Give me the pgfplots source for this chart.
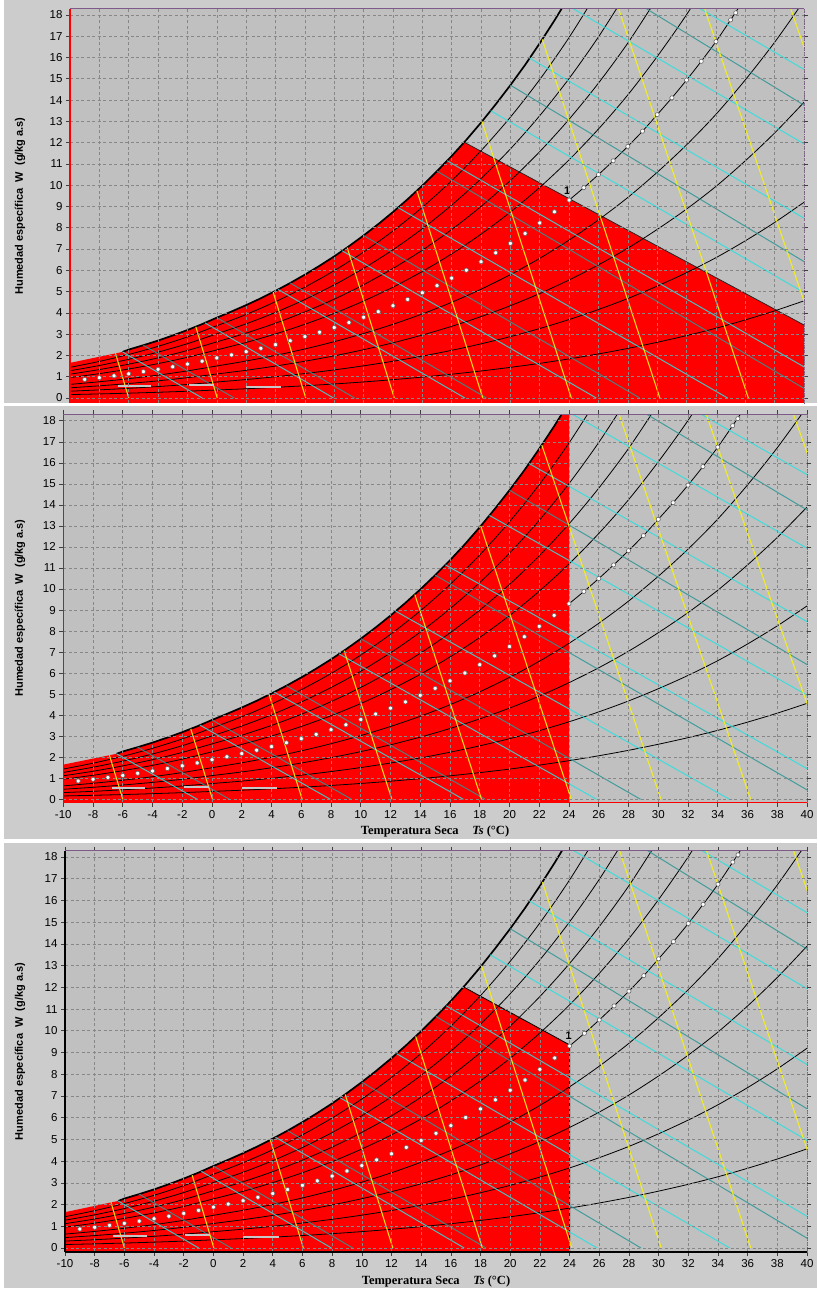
\documentclass[border=0pt]{standalone}
\usepackage{fontspec}
\setmainfont{Liberation Sans}
\newfontfamily\serifbf{Liberation Serif}
\usepackage{pgfplots}
\pgfplotsset{compat=1.18}

\definecolor{plotgray}{RGB}{192,192,192}
\definecolor{panelgray}{RGB}{204,204,204}
\definecolor{gridgray}{RGB}{135,135,135}
\definecolor{chartred}{RGB}{255,0,0}
\definecolor{wbteal}{RGB}{45,150,150}
\definecolor{hcyan}{RGB}{40,225,225}
\definecolor{vyellow}{RGB}{245,240,20}
\definecolor{framepurple}{RGB}{125,90,135}

\pgfplotsset{
  psy/.style={
    scale only axis, axis on top, anchor=south west,
    xmin=-10, xmax=40,
    xtick={-10,-8,...,40}, ytick={0,1,...,18},
    grid=major,
    major grid style={gridgray, line width=0.6pt, dash pattern=on 3pt off 2.5pt},
    axis background/.style={fill=plotgray},
    axis line style={draw=none},
    tick align=outside, major tick length=4pt,
    tick style={black!75, line width=0.6pt},
    ticklabel style={font=\fontsize{11.5}{13}\selectfont},
    /pgf/number format/assume math mode=true,
  },
  rh/.style={black, line width=0.8pt, smooth},
  wb/.style={wbteal, line width=1.0pt, opacity=0.85},
  hl/.style={hcyan, line width=1.0pt, opacity=0.85},
  vl/.style={vyellow, line width=1.1pt, opacity=0.9},
}

\newcommand{\chartlines}{%
  % relative humidity 10..90 %
  \addplot[rh] coordinates {(-10,0.160)(-8,0.191)(-6,0.227)(-4,0.269)(-2,0.318)(0,0.376)(2,0.434)(4,0.500)(6,0.575)(8,0.659)(10,0.755)(12,0.862)(14,0.983)(16,1.119)(18,1.270)(20,1.439)(22,1.628)(24,1.838)(26,2.072)(28,2.330)(30,2.618)(32,2.932)(34,3.279)(36,3.671)(38,4.097)(40,4.564)};
  \addplot[rh] coordinates {(-10,0.319)(-8,0.381)(-6,0.454)(-4,0.538)(-2,0.636)(0,0.751)(2,0.868)(4,1.000)(6,1.151)(8,1.320)(10,1.512)(12,1.727)(14,1.969)(16,2.241)(18,2.545)(20,2.885)(22,3.265)(24,3.687)(26,4.158)(28,4.677)(30,5.258)(32,5.891)(34,6.593)(36,7.386)(38,8.248)(40,9.196)};
  \addplot[rh] coordinates {(-10,0.479)(-8,0.572)(-6,0.681)(-4,0.807)(-2,0.955)(0,1.128)(2,1.303)(4,1.502)(6,1.728)(8,1.982)(10,2.270)(12,2.594)(14,2.959)(16,3.368)(18,3.826)(20,4.338)(22,4.910)(24,5.547)(26,6.257)(28,7.042)(30,7.921)(32,8.879)(34,9.942)(36,11.145)(38,12.454)(40,13.897)};
  \addplot[rh] coordinates {(-10,0.639)(-8,0.763)(-6,0.908)(-4,1.076)(-2,1.274)(0,1.505)(2,1.738)(4,2.004)(6,2.305)(8,2.646)(10,3.031)(12,3.464)(14,3.951)(16,4.498)(18,5.112)(20,5.798)(22,6.564)(24,7.419)(26,8.371)(28,9.424)(30,10.606)(32,11.895)(34,13.327)(36,14.949)(38,16.717)(40,18.669)};
  \addplot[rh] coordinates {(24,9.301)(25,9.884)(26,10.499)(27,11.146)(28,11.825)(29,12.539)(30,13.314)(31,14.105)(32,14.940)(33,15.821)(34,16.748)(35,17.768)(36,18.810)};
  \addplot[rh] coordinates {(-10,0.959)(-8,1.145)(-6,1.363)(-4,1.616)(-2,1.913)(0,2.260)(2,2.611)(4,3.011)(6,3.465)(8,3.977)(10,4.557)(12,5.210)(14,5.945)(16,6.772)(18,7.699)(20,8.737)(22,9.898)(24,11.194)(26,12.641)(28,14.244)(30,16.046)(32,18.015)(34,20.207)};
  \addplot[rh] coordinates {(-10,1.119)(-8,1.336)(-6,1.591)(-4,1.886)(-2,2.233)(0,2.638)(2,3.049)(4,3.515)(6,4.046)(8,4.645)(10,5.323)(12,6.087)(14,6.947)(16,7.915)(18,9.001)(20,10.217)(22,11.578)(24,13.099)(26,14.798)(28,16.682)(30,18.801)};
  \addplot[rh] coordinates {(-10,1.279)(-8,1.527)(-6,1.818)(-4,2.157)(-2,2.553)(0,3.017)(2,3.487)(4,4.021)(6,4.628)(8,5.315)(10,6.091)(12,6.966)(14,7.952)(16,9.062)(18,10.308)(20,11.704)(22,13.267)(24,15.016)(26,16.970)(28,19.139)};
  \addplot[rh] coordinates {(-10,1.439)(-8,1.719)(-6,2.047)(-4,2.427)(-2,2.873)(0,3.396)(2,3.925)(4,4.527)(6,5.211)(8,5.985)(10,6.860)(12,7.848)(14,8.961)(16,10.213)(18,11.620)(20,13.198)(22,14.966)(24,16.944)(26,19.157)};
  % saturation curve
  \addplot[black, line width=1.7pt] coordinates {(-6.42,2.165)(-6,2.275)(-5,2.480)(-4,2.698)(-3,2.938)(-2,3.194)(-1,3.471)(0,3.775)(1,4.063)(2,4.365)(3,4.686)(4,5.034)(5,5.403)(6,5.796)(7,6.213)(8,6.655)(9,7.131)(10,7.636)(11,8.171)(12,8.739)(13,9.341)(14,9.980)(15,10.66)(16,11.37)(17,12.13)(18,12.94)(19,13.80)(20,14.70)(21,15.65)(22,16.67)(23,17.74)(24,18.87)};
  % wet-bulb lines
  \addplot[wb] coordinates {(-5,2.48)(1.19,0)};
  \addplot[wb] coordinates {(0,3.775)(9.39,0)};
  \addplot[wb] coordinates {(5,5.403)(18.37,0)};
  \addplot[wb] coordinates {(10,7.636)(28.81,0)};
  \addplot[wb] coordinates {(15,10.66)(40,0.45)};
  \addplot[wb] coordinates {(20,14.70)(40,6.41)};
  \addplot[wb] coordinates {(25,20.09)(40,13.76)};
  % enthalpy lines
  \addplot[hl] coordinates {(-6.42,2.165)(-0.99,0)};
  \addplot[hl] coordinates {(-0.81,3.53)(7.95,0)};
  \addplot[hl] coordinates {(4.18,5.10)(16.90,0)};
  \addplot[hl] coordinates {(8.545,6.914)(25.85,0)};
  \addplot[hl] coordinates {(12.345,8.947)(34.79,0)};
  \addplot[hl] coordinates {(15.69,11.15)(40,1.46)};
  \addplot[hl] coordinates {(18.65,13.50)(40,4.955)};
  \addplot[hl] coordinates {(21.31,15.97)(40,8.449)};
  \addplot[hl] coordinates {(23.52,18.6)(40,11.94)};
  \addplot[hl] coordinates {(32.17,18.6)(40,15.44)};
  % specific volume lines
  \addplot[vl] coordinates {(-6.90,2.10)(-6.0,0)};
  \addplot[vl] coordinates {(-1.43,3.35)(0.03,0)};
  \addplot[vl] coordinates {(3.84,4.97)(6.06,0)};
  \addplot[vl] coordinates {(8.88,7.07)(12.09,0)};
  \addplot[vl] coordinates {(13.63,9.74)(18.12,0)};
  \addplot[vl] coordinates {(18.06,13.0)(24.15,0)};
  \addplot[vl] coordinates {(22.17,16.85)(30.18,0)};
  \addplot[vl] coordinates {(27.27,18.5)(36.21,0)};
  \addplot[vl] coordinates {(33.13,18.5)(42.24,0)};
  \addplot[vl] coordinates {(38.99,18.5)(48.27,0)};
  % label place-holders
  \addplot[black!22, line width=2.2pt] coordinates {(-6.75,0.55)(-4.5,0.55)};
  \addplot[black!22, line width=2.2pt] coordinates {(-1.9,0.6)(-0.2,0.6)};
  \addplot[black!22, line width=2.2pt] coordinates {(2.0,0.52)(4.4,0.52)};
  % 50 % process points
  \addplot[only marks, mark=*, mark size=2.1pt, mark options={fill=white, draw=black!60, line width=0.6pt}] coordinates {(-9,0.873)(-8,0.954)(-7,1.041)(-6,1.135)(-5,1.238)(-4,1.346)(-3,1.465)(-2,1.593)(-1,1.731)(0,1.882)(1,2.023)(2,2.175)(3,2.336)(4,2.507)(5,2.690)(6,2.884)(7,3.091)(8,3.311)(9,3.544)(10,3.793)(11,4.056)(12,4.336)(13,4.632)(14,4.947)(15,5.280)(16,5.633)(17,6.007)(18,6.403)(19,6.821)(20,7.264)(21,7.732)(22,8.226)(23,8.749)(24,9.301)(25,9.884)(26,10.499)(27,11.146)(28,11.825)(29,12.539)(30,13.314)(31,14.105)(32,14.940)(33,15.821)(34,16.748)(35,17.768)(35.35,18.1)};
}

\newcommand{\ylab}{\bfseries\fontsize{11}{13}\selectfont Humedad específica\ \ W\ \ (g/kg a.s)}
\newcommand{\xlab}{\serifbf\bfseries\fontsize{12.5}{14}\selectfont Temperatura Seca\hspace{1.1em}{\itshape Ts} (°C)}

\begin{document}
\begin{tikzpicture}[x=1pt,y=1pt]
\path[use as bounding box] (0,0) rectangle (817,1290);
\fill[white] (0,0) rectangle (817,1290);
\fill[panelgray] (4,887) rectangle (817,1290);
\fill[panelgray] (4,451) rectangle (817,884);
\fill[panelgray] (4,2) rectangle (817,447);

% ---------------- panel 1 ----------------
\begin{axis}[psy, name=p1, at={(70pt,887pt)}, x=14.68pt, y=21.28pt, ymin=-0.235, ymax=18.28,
  xticklabels={}, xtick style={draw=none}]
\addplot[fill=chartred, draw=none] coordinates {(-10,-1)(-10,1.65)(-6.42,2.165)(-6,2.275)(-5,2.480)(-4,2.698)(-3,2.938)(-2,3.194)(-1,3.471)(0,3.775)(1,4.063)(2,4.365)(3,4.686)(4,5.034)(5,5.403)(6,5.796)(7,6.213)(8,6.655)(9,7.131)(10,7.636)(11,8.171)(12,8.739)(13,9.341)(14,9.980)(15,10.66)(16,11.37)(16.85,12.02)(40,3.43)(40,-1)} -- cycle;
\addplot[black!85, line width=0.8pt] coordinates {(16.85,12.02)(40,3.43)};
\chartlines
\node[anchor=south, font=\bfseries\fontsize{11}{12}\selectfont, xshift=-2pt, yshift=2pt] at (axis cs:24,9.3) {1};
\end{axis}
\draw[chartred, line width=1.6pt] (p1.south west) -- (p1.north west);
\draw[framepurple, line width=1pt] (p1.north west) -- (p1.north east);
\draw[framepurple, line width=0.9pt, dash pattern=on 1.2pt off 1.2pt] (p1.north east) -- (p1.south east);
\node[rotate=90] at (20,1084) {\ylab};

% ---------------- panel 2 ----------------
\begin{axis}[psy, name=p2, at={(63.3pt,487.3pt)}, x=14.874pt, y=21.03pt, ymin=-0.16, ymax=18.32]
\addplot[fill=chartred, draw=none] coordinates {(-10,-1)(-10,1.65)(-6.42,2.165)(-6,2.275)(-5,2.480)(-4,2.698)(-3,2.938)(-2,3.194)(-1,3.471)(0,3.775)(1,4.063)(2,4.365)(3,4.686)(4,5.034)(5,5.403)(6,5.796)(7,6.213)(8,6.655)(9,7.131)(10,7.636)(11,8.171)(12,8.739)(13,9.341)(14,9.980)(15,10.66)(16,11.37)(17,12.13)(18,12.94)(19,13.80)(20,14.70)(21,15.65)(22,16.67)(23,17.74)(24,18.87)(24,-1)} -- cycle;
\chartlines
\end{axis}
\draw[chartred, line width=1.6pt] (p2.south west) -- (p2.north west);
\draw[chartred, line width=1.6pt] (p2.south west) -- (p2.south east);
\draw[framepurple, line width=1pt] (p2.north west) -- (p2.north east);
\draw[framepurple, line width=0.9pt, dash pattern=on 1.2pt off 1.2pt] (p2.north east) -- (p2.south east);
\node[rotate=90] at (20,682) {\ylab};
\node at (435,458) {\xlab};

% ---------------- panel 3 ----------------
\begin{axis}[psy, name=p3, at={(65pt,38.1pt)}, x=14.84pt, y=21.72pt, ymin=-0.18, ymax=18.28]
\addplot[fill=chartred, draw=none] coordinates {(-10,-1)(-10,1.65)(-6.42,2.165)(-6,2.275)(-5,2.480)(-4,2.698)(-3,2.938)(-2,3.194)(-1,3.471)(0,3.775)(1,4.063)(2,4.365)(3,4.686)(4,5.034)(5,5.403)(6,5.796)(7,6.213)(8,6.655)(9,7.131)(10,7.636)(11,8.171)(12,8.739)(13,9.341)(14,9.980)(15,10.66)(16,11.37)(16.85,12.02)(24,9.35)(24,-1)} -- cycle;
\addplot[black, line width=0.9pt] coordinates {(16.85,12.02)(24,9.35)(24,-0.2)};
\chartlines
\node[anchor=south, font=\bfseries\fontsize{11}{12}\selectfont, xshift=-1pt, yshift=2pt] at (axis cs:24,9.35) {1};
\end{axis}
\draw[black, line width=1.8pt] (p3.south west) -- (p3.north west);
\draw[black, line width=1.8pt] (p3.south west) -- (p3.south east);
\draw[framepurple, line width=1pt] (p3.north west) -- (p3.north east);
\draw[framepurple, line width=0.9pt, dash pattern=on 1.2pt off 1.2pt] (p3.north east) -- (p3.south east);
\node[rotate=90] at (20,238.5) {\ylab};
\node at (436,9) {\xlab};
\end{tikzpicture}
\end{document}
